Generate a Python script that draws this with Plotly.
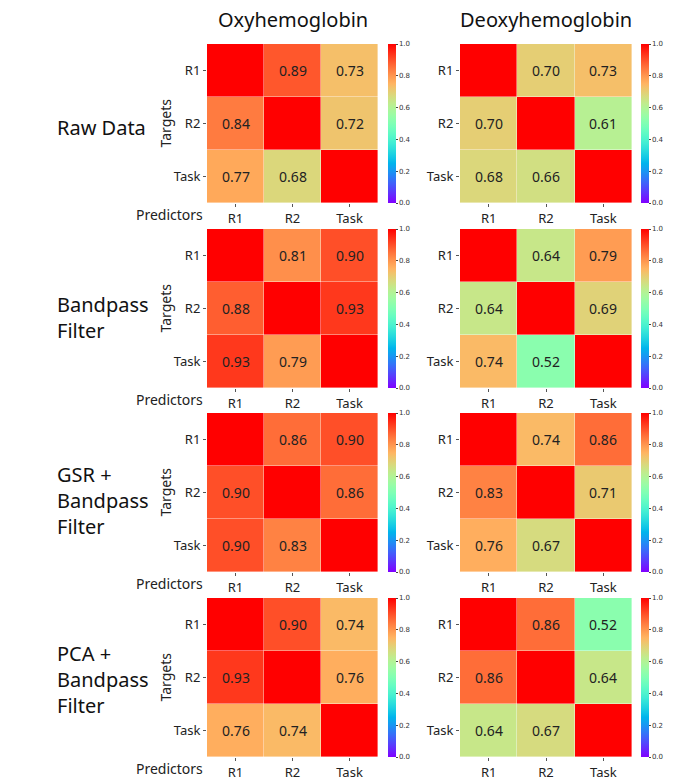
import numpy as np
import plotly.graph_objects as go

W, H = 696, 784

# ---- data ----
labels = ["R1", "R2", "Task"]
methods = ["Raw Data", "Bandpass<br>Filter", "GSR +<br>Bandpass<br>Filter", "PCA +<br>Bandpass<br>Filter"]
columns = ["Oxyhemoglobin", "Deoxyhemoglobin"]

oxy_raw = [[1.00, 0.89, 0.73], [0.84, 1.00, 0.72], [0.77, 0.68, 1.00]]
deoxy_raw = [[1.00, 0.70, 0.73], [0.70, 1.00, 0.61], [0.68, 0.66, 1.00]]
oxy_bp = [[1.00, 0.81, 0.90], [0.88, 1.00, 0.93], [0.93, 0.79, 1.00]]
deoxy_bp = [[1.00, 0.64, 0.79], [0.64, 1.00, 0.69], [0.74, 0.52, 1.00]]
oxy_gsr = [[1.00, 0.86, 0.90], [0.90, 1.00, 0.86], [0.90, 0.83, 1.00]]
deoxy_gsr = [[1.00, 0.74, 0.86], [0.83, 1.00, 0.71], [0.76, 0.67, 1.00]]
oxy_pca = [[1.00, 0.90, 0.74], [0.93, 1.00, 0.76], [0.76, 0.74, 1.00]]
deoxy_pca = [[1.00, 0.86, 0.52], [0.86, 1.00, 0.64], [0.64, 0.67, 1.00]]

matrices = [[oxy_raw, deoxy_raw], [oxy_bp, deoxy_bp], [oxy_gsr, deoxy_gsr], [oxy_pca, deoxy_pca]]
cbar_ticks = [0.0, 0.2, 0.4, 0.6, 0.8, 1.0]

# ---- matplotlib 'rainbow' colormap ----
def rainbow(x):
    r = min(1.0, abs(2 * x - 0.5))
    g = np.sin(np.pi * x)
    b = np.cos(np.pi * x / 2)
    return "rgb(%d,%d,%d)" % (round(r * 255), round(g * 255), round(b * 255))

cscale = [[i / 40, rainbow(i / 40)] for i in range(41)]

# ---- layout geometry (pixels) ----
row_px = [(44, 203), (229, 388), (413, 572), (598, 757)]
col_px = [(207, 378), (460, 632)]
cbar_px = [388, 641]
row_label_y = [128, 318, 500, 679]

def fx(p):
    return p / W

def fy(p):
    return 1 - p / H

fig = go.Figure()
annotations = []
font_main = "Noto Sans, DejaVu Sans, sans-serif"

k = 0
for r in range(4):
    for c in range(2):
        k += 1
        xa = "x" if k == 1 else "x%d" % k
        ya = "y" if k == 1 else "y%d" % k
        z = matrices[r][c]
        txt = [["" if i == j else "%.2f" % z[i][j] for j in range(3)] for i in range(3)]
        y0, y1 = row_px[r]
        x0, x1 = col_px[c]
        fig.add_trace(go.Heatmap(
            z=z, x=labels, y=labels, text=txt, texttemplate="%{text}",
            textfont=dict(size=14, color="#222", family=font_main),
            colorscale=cscale, zmin=0, zmax=1, xgap=0.4, ygap=0.4,
            xaxis=xa, yaxis=ya, hoverinfo="skip",
            colorbar=dict(
                x=fx(cbar_px[c]), xanchor="left", xref="paper", xpad=0,
                y=fy((y0 + y1) / 2), yanchor="middle", yref="paper", ypad=0,
                len=(y1 - y0) / H, lenmode="fraction", thickness=8,
                outlinewidth=0, tickvals=cbar_ticks,
                ticktext=["%.1f" % t for t in cbar_ticks],
                ticks="outside", ticklen=2, tickcolor="#444",
                tickfont=dict(size=7, color="#333", family="DejaVu Sans"),
            ),
        ))
        xkey = "xaxis" if k == 1 else "xaxis%d" % k
        ykey = "yaxis" if k == 1 else "yaxis%d" % k
        fig.layout[xkey] = dict(
            domain=[fx(x0), fx(x1)], anchor=ya, showgrid=False, zeroline=False,
            ticks="outside", ticklen=3, tickcolor="#555",
            tickfont=dict(size=13, color="#222", family=font_main),
            showline=False, fixedrange=True,
        )
        fig.layout[ykey] = dict(
            domain=[fy(y1), fy(y0)], anchor=xa, showgrid=False, zeroline=False,
            autorange="reversed", ticks="outside", ticklen=3, tickcolor="#555",
            tickfont=dict(size=13, color="#222", family=font_main),
            showline=False, fixedrange=True,
        )
        if c == 0:
            annotations.append(dict(
                x=fx(165), y=fy((y0 + y1) / 2), xref="paper", yref="paper",
                text="Targets", textangle=-90, showarrow=False,
                font=dict(size=14, color="#222", family=font_main),
                xanchor="center", yanchor="middle",
            ))
            annotations.append(dict(
                x=fx(205), y=fy(y1 + 11), xref="paper", yref="paper",
                text="Predictors", showarrow=False,
                font=dict(size=14, color="#222", family=font_main),
                xanchor="right", yanchor="middle",
            ))

for r in range(4):
    annotations.append(dict(
        x=fx(55), y=fy(row_label_y[r]), xref="paper", yref="paper",
        text=methods[r], showarrow=False, align="left",
        font=dict(size=20, color="#111", family=font_main),
        xanchor="left", yanchor="middle",
    ))

for c in range(2):
    annotations.append(dict(
        x=fx((col_px[c][0] + col_px[c][1]) / 2), y=fy(20), xref="paper", yref="paper",
        text=columns[c], showarrow=False,
        font=dict(size=20, color="#111", family=font_main),
        xanchor="center", yanchor="middle",
    ))

fig.update_layout(
    width=W, height=H, margin=dict(l=0, r=0, t=0, b=0),
    paper_bgcolor="white", plot_bgcolor="white",
    annotations=annotations, showlegend=False,
)

fig.write_html(
    "out.html",
    config={"displayModeBar": False},
    post_script="document.body.style.margin='0';document.body.style.padding='0';",
)
